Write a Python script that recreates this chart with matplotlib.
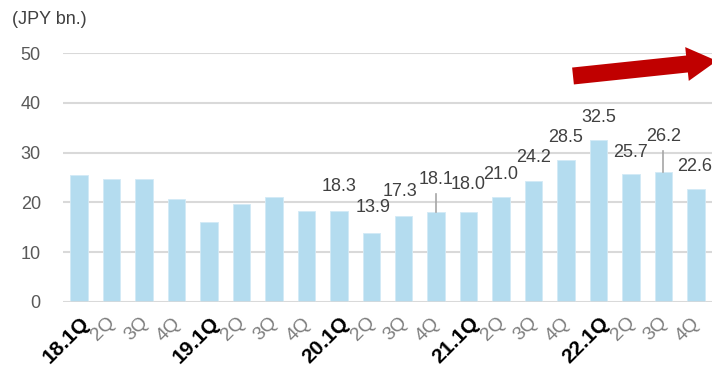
import matplotlib

matplotlib.use("Agg")
import matplotlib.pyplot as plt
from matplotlib.patches import FancyArrow
from matplotlib.transforms import ScaledTranslation

plt.rcParams["font.family"] = ["Liberation Sans", "DejaVu Sans"]

# quarterly values, JPY bn.
quarters = ["18.1Q", "2Q", "3Q", "4Q",
            "19.1Q", "2Q", "3Q", "4Q",
            "20.1Q", "2Q", "3Q", "4Q",
            "21.1Q", "2Q", "3Q", "4Q",
            "22.1Q", "2Q", "3Q", "4Q"]
values = [25.5, 24.6, 24.7, 20.7,
          16.1, 19.7, 21.0, 18.3,
          18.3, 13.9, 17.3, 18.1,
          18.0, 21.0, 24.2, 28.5,
          32.5, 25.7, 26.2, 22.6]
# labelled bars start at 20.1Q; label heights as placed on the slide
label_start = 8
label_y = [23.1, 18.9, 22.2, 24.6, 23.5, 25.7, 29.1, 33.1, 37.1, 30.1, 33.3, 27.3]
label_dx = [0, 0.05, -0.1, 0, 0, 0, 0, 0, 0, 0, 0, -0.05]
leaders = {11: 21.7, 18: 30.3}

bar_color = "#B4DCEF"
grid_color = "#D9D9D9"

fig = plt.figure(figsize=(7.12, 3.69), dpi=100)
ax = fig.add_axes([63 / 712, 1 - 302 / 369, 649 / 712, (302 - 53) / 369])

x = list(range(len(values)))
ax.bar(x, values, width=0.54, color=bar_color, edgecolor="#D2EAF6", linewidth=0.6, zorder=2)

ax.set_xlim(-0.5, len(values) - 0.5)
ax.set_ylim(0, 50)
ax.set_yticks([0, 10, 20, 30, 40, 50])
ax.yaxis.grid(True, color=grid_color, linewidth=1.5)
ax.set_axisbelow(True)
for s in ax.spines.values():
    s.set_visible(False)
ax.axhline(0, color=grid_color, linewidth=1.8, zorder=3)
ax.tick_params(axis="y", length=0, pad=16, labelsize=13, labelcolor="#595959")
ax.tick_params(axis="x", length=0, pad=13)

ax.set_xticks(x)
ax.set_xticklabels(quarters)
year_shift = ScaledTranslation(5 / 72, 0, fig.dpi_scale_trans)
qtr_shift = ScaledTranslation(0.8 / 72, 0, fig.dpi_scale_trans)
for i, lab in enumerate(ax.get_xticklabels()):
    lab.set_rotation(45)
    lab.set_rotation_mode("anchor")
    lab.set_ha("right")
    lab.set_va("center")
    if i % 4 == 0:
        lab.set_fontsize(15)
        lab.set_fontweight("bold")
        lab.set_color("black")
        lab.set_transform(lab.get_transform() + year_shift)
    else:
        lab.set_fontsize(14)
        lab.set_color("#7F7F7F")
        lab.set_transform(lab.get_transform() + qtr_shift)

# data labels
for k, ly in enumerate(label_y):
    i = label_start + k
    ax.text(i + label_dx[k], ly, f"{values[i]:.1f}", ha="center", va="center",
            fontsize=13, color="#404040", clip_on=False, zorder=4)
for i, top in leaders.items():
    ax.plot([i, i], [values[i], top], color="#A6A6A6", linewidth=1.2, zorder=3)

fig.text(12 / 712, 1 - 20 / 369, "(JPY bn.)", fontsize=13, color="#404040",
         ha="left", va="center")

# trend arrow
arrow = FancyArrow(5.73, 2.93, 1.14, 0.12, width=0.17, head_width=0.34, head_length=0.30,
                   length_includes_head=False, color="#C00000", linewidth=0,
                   transform=fig.dpi_scale_trans)
fig.patches.append(arrow)

fig.savefig("out.png", dpi=100)
